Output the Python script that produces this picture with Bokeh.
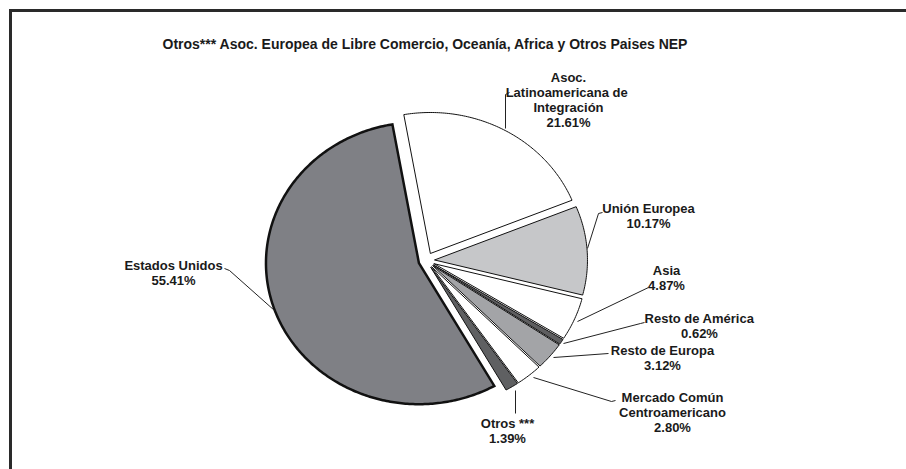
import numpy as np
from bokeh.plotting import figure
from bokeh.models import Range1d
from bokeh.core.properties import value
from bokeh.embed import file_html
from bokeh.resources import INLINE

# ---------------- data ----------------
title = "Otros*** Asoc. Europea de Libre Comercio, Oceanía, Africa y Otros Paises NEP"
categories = ["Asoc. Latinoamericana de Integración", "Unión Europea", "Asia",
              "Resto de América", "Resto de Europa",
              "Mercado Común Centroamericano", "Otros ***", "Estados Unidos"]
label_lines = [["Asoc.", "Latinoamericana  de", "Integración"], ["Unión Europea"], ["Asia"],
               ["Resto de América"], ["Resto de Europa"],
               ["Mercado Común", "Centroamericano"], ["Otros ***"], ["Estados Unidos"]]
shares = [21.61, 10.17, 4.87, 0.62, 3.12, 2.80, 1.39, 55.41]
colors = ["#ffffff", "#c6c7c9", "#ffffff", "#5e5e60", "#a3a4a7", "#ffffff", "#5f6062", "#7f8085"]

# ---------------- layout ----------------
W, H = 906, 469
CX, CY = 426, 260
RX, RY = 153, 141
EXPLODE = 8
START = -10.0
FONT = "Liberation Sans"
TXT = "#1a1a1a"

label_pos = [(568, 77), (648, 208), (666, 270), (699, 318), (662, 350),
             (672, 397), (507, 423), (173, 265)]
LINE_STEP = 15
leaders = [
    [(509, 92), (505, 94), (505, 128)],
    [(602, 212), (598, 213), (587, 248)],
    [(648, 287), (577, 321)],
    [(644, 322), (640, 323), (563, 343)],
    [(608, 353), (553, 357)],
    [(615, 400), (611, 401), (533, 377)],
    [(515, 413), (515, 390)],
    [(224, 268), (229, 270), (274, 310)],
]

p = figure(width=W, height=H, output_backend="svg", toolbar_location=None,
           x_range=Range1d(0, W), y_range=Range1d(H, 0),
           min_border=0, background_fill_color="white", border_fill_color="white")
p.axis.visible = False
p.grid.visible = False
p.outline_line_color = None

# frame (top and left edges visible)
p.quad(left=[8.5], right=[11.5], top=[8.5], bottom=[H], fill_color="#2a2a2a", line_color=None)
p.quad(left=[8.5], right=[W], top=[8.5], bottom=[11.5], fill_color="#2a2a2a", line_color=None)

# pie slices
total = float(sum(shares))
edges = START + np.cumsum([0.0] + shares) / total * 360.0
xs, ys, lw = [], [], []
for i, v in enumerate(shares):
    a0, a1 = np.radians(edges[i]), np.radians(edges[i + 1])
    mid = 0.5 * (a0 + a1)
    cx = CX + EXPLODE * np.sin(mid)
    cy = CY - EXPLODE * np.cos(mid)
    t = np.linspace(a0, a1, max(8, int(abs(a1 - a0) * 80)))
    xs.append([cx] + list(cx + RX * np.sin(t)))
    ys.append([cy] + list(cy - RY * np.cos(t)))
    lw.append(2.5 if categories[i] == "Estados Unidos" else 1.0)

p.patches(xs, ys, fill_color=colors, line_color="#111111", line_width=lw, line_join="miter")

# leader lines
for pts in leaders:
    p.line([q[0] for q in pts], [q[1] for q in pts], line_color="#222222", line_width=1)

# labels
tx, ty, tt = [], [], []
for i, (lx, ly) in enumerate(label_pos):
    lines = label_lines[i] + [f"{shares[i]:.2f}%"]
    for k, s in enumerate(lines):
        tx.append(lx)
        ty.append(ly + k * LINE_STEP)
        tt.append(s)
p.text(tx, ty, text=tt, text_align="center", text_baseline="middle",
       text_font=value(FONT), text_font_style="bold", text_font_size="13px", text_color=TXT)

# title
p.text([425], [43], text=[title], text_align="center", text_baseline="middle",
       text_font=value(FONT), text_font_style="bold", text_font_size="14px", text_color=TXT)

open("out.html", "w").write(file_html(p, INLINE))
